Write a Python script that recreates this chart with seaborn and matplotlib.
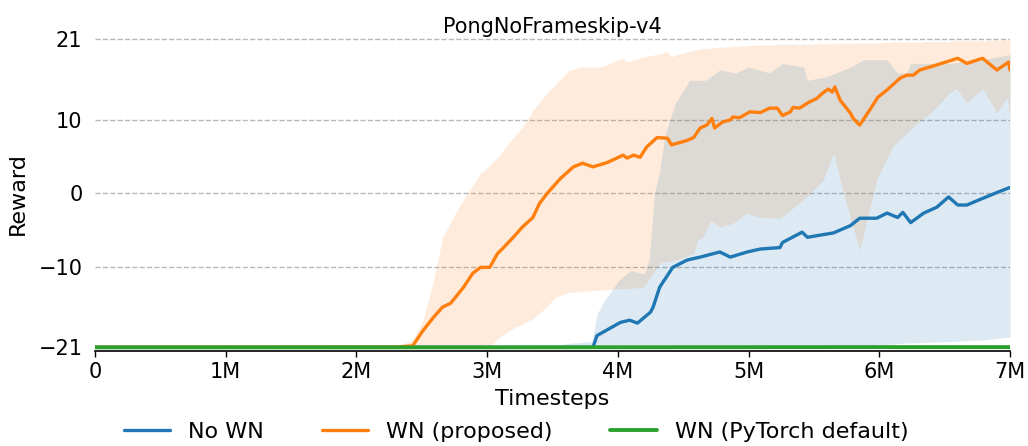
import numpy as np
import pandas as pd
import seaborn as sns
import matplotlib.pyplot as plt
from matplotlib.ticker import FuncFormatter

# ------------------------------ DONNEES (timesteps en millions) ------------------------------
titre = "PongNoFrameskip-v4"
noms = ["No WN", "WN (proposed)", "WN (PyTorch default)"]
couleurs = ["#1f77b4", "#ff7f0e", "#2ca02c"]

# No WN : moyenne
t_nown = [0, 3.81, 3.84, 3.94, 4.02, 4.09, 4.15, 4.25, 4.27, 4.32, 4.42, 4.53, 4.63, 4.78, 4.86,
          4.99, 5.09, 5.24, 5.26, 5.41, 5.45, 5.65, 5.78, 5.85, 5.98, 6.06, 6.14, 6.18, 6.24,
          6.34, 6.44, 6.53, 6.60, 6.67, 6.79, 6.90, 7.0]
moy_nown = [-21, -21, -19.4, -18.4, -17.6, -17.3, -17.7, -16.2, -15.5, -12.8, -10.1, -9.1, -8.7,
            -8.0, -8.7, -8.0, -7.6, -7.4, -6.7, -5.3, -6.0, -5.4, -4.4, -3.4, -3.4, -2.7, -3.3,
            -2.6, -4.0, -2.7, -1.9, -0.5, -1.6, -1.6, -0.7, 0.1, 0.8]
# No WN : enveloppe
tb_nown = [0, 3.5, 3.6, 3.8, 3.84, 3.9, 3.94, 4.0, 4.1, 4.2, 4.24, 4.28, 4.32, 4.36, 4.44, 4.55,
           4.67, 4.78, 4.9, 5.0, 5.16, 5.26, 5.42, 5.45, 5.6, 5.78, 5.88, 6.06, 6.14, 6.21, 6.24,
           6.54, 6.79, 7.0]
bas_nown = [-21, -21, -21, -21, -21, -21, -21, -21, -21, -21, -21, -21, -21, -21, -21, -21,
            -21, -21, -21, -21, -21, -21, -21, -21, -21, -20.9, -20.8, -20.6, -20.5, -20.4,
            -20.4, -20.2, -20.0, -19.6]
haut_nown = [-21, -21, -20.5, -20.2, -16.5, -14.5, -13.6, -12.0, -10.5, -11.0, -9.0, 0.0, 3.0,
             8.0, 12.3, 15.4, 15.4, 16.8, 16.4, 17.2, 16.4, 17.7, 17.2, 15.4, 15.9, 17.2, 18.2,
             18.2, 16.4, 16.4, 17.7, 17.7, 18.2, 18.9]

# WN (proposed) : moyenne
t_wn = [0, 2.3, 2.43, 2.51, 2.59, 2.66, 2.72, 2.82, 2.89, 2.95, 3.02, 3.08, 3.12, 3.20, 3.27,
        3.35, 3.40, 3.46, 3.56, 3.66, 3.73, 3.81, 3.92, 4.04, 4.07, 4.12, 4.17, 4.22, 4.30,
        4.38, 4.41, 4.53, 4.58, 4.63, 4.68, 4.72, 4.74, 4.80, 4.86, 4.88, 4.93, 5.01, 5.09,
        5.16, 5.22, 5.26, 5.32, 5.34, 5.39, 5.46, 5.52, 5.57, 5.61, 5.64, 5.66, 5.70, 5.78,
        5.80, 5.85, 5.91, 5.99, 6.06, 6.16, 6.21, 6.26, 6.31, 6.44, 6.60, 6.67, 6.79, 6.90,
        6.99, 7.0]
moy_wn = [-21, -20.95, -20.8, -18.7, -16.9, -15.5, -15.0, -12.8, -10.9, -10.1, -10.1, -8.2,
          -7.5, -6.0, -4.6, -3.3, -1.4, 0.0, 2.0, 3.6, 4.1, 3.6, 4.2, 5.2, 4.8, 5.2, 4.9, 6.3,
          7.6, 7.5, 6.6, 7.2, 7.6, 8.9, 9.3, 10.2, 8.9, 9.7, 10.0, 10.4, 10.3, 11.1, 11.0,
          11.6, 11.6, 10.6, 11.1, 11.7, 11.6, 12.4, 12.9, 13.7, 14.2, 13.8, 14.5, 12.7, 10.9,
          10.2, 9.3, 10.9, 13.1, 14.1, 15.7, 16.1, 16.1, 16.8, 17.5, 18.4, 17.7, 18.4, 16.8,
          17.9, 16.8]
# WN (proposed) : enveloppe
tb_wn = [0, 2.2, 2.35, 2.43, 2.51, 2.59, 2.66, 2.77, 2.85, 2.95, 3.02, 3.08, 3.2, 3.27, 3.35,
         3.43, 3.53, 3.63, 3.71, 3.86, 4.04, 4.07, 4.2, 4.32, 4.38, 4.41, 4.45, 4.58, 4.61,
         4.65, 4.71, 4.78, 4.88, 4.99, 5.09, 5.24, 5.42, 5.47, 5.57, 5.65, 5.72, 5.85, 5.98,
         6.1, 6.29, 6.39, 6.54, 6.59, 6.67, 6.79, 6.9, 6.98, 7.0]
bas_wn = [-21, -21, -21, -21, -21, -21, -21, -21, -21, -21, -21, -19.8, -18.4, -17.8, -17.1,
          -15.9, -14.1, -13.5, -13.4, -13.2, -13.0, -13.0, -12.8, -9.5, -9.3, -9.2, -9.1, -8.2,
          -6.4, -6.0, -3.7, -4.6, -4.1, -2.7, -3.3, -3.4, -0.9, 0.0, 1.8, 5.5, 0.4, -7.8, 1.8,
          6.3, 9.6, 10.9, 13.7, 14.3, 12.3, 14.3, 10.9, 13.1, 10.0]
haut_wn = [-21, -20.95, -20.6, -20.0, -17.3, -11.9, -6.0, -2.3, 0.0, 2.7, 3.8, 4.9, 7.6, 9.0,
           11.3, 13.1, 15.0, 16.8, 17.2, 17.2, 18.4, 17.9, 18.6, 19.0, 19.3, 18.6, 18.9, 19.5,
           19.6, 19.7, 19.8, 19.9, 20.0, 20.1, 20.2, 20.3, 20.3, 20.3, 20.4, 20.4, 20.4, 20.5,
           20.5, 20.6, 20.6, 20.7, 20.7, 20.8, 20.8, 20.8, 20.9, 20.9, 20.9]

# WN (PyTorch default)
t_pt = [0, 3.0, 6.0, 7.0]
moy_pt = [-21, -21, -20.97, -20.97]
bas_pt = [-21, -21, -21, -21]
haut_pt = [-20.9, -20.9, -20.85, -20.85]

yticks = [-21, -10, 0, 10, 21]
xticks = [0, 1, 2, 3, 4, 5, 6, 7]

# ------------------------------ AFFICHAGE ------------------------------
sns.set_style("white")
plt.rcParams['font.family'] = ['DejaVu Sans']
plt.rcParams['text.color'] = 'black'
plt.rcParams['axes.labelcolor'] = 'black'
plt.rcParams['xtick.color'] = 'black'
plt.rcParams['ytick.color'] = 'black'

fig = plt.figure(figsize=(10.28, 4.46), dpi=100)
ax = fig.add_axes([0.0924, 0.213, 0.8901, 0.704])

# enveloppes
ax.fill_between(tb_wn, bas_wn, haut_wn, color=couleurs[1], alpha=0.15, linewidth=0)
ax.fill_between(tb_nown, bas_nown, haut_nown, color=couleurs[0], alpha=0.15, linewidth=0)
ax.fill_between(t_pt, bas_pt, haut_pt, color=couleurs[2], alpha=0.15, linewidth=0)

df_nown = pd.DataFrame({"t": t_nown, "r": moy_nown})
df_wn = pd.DataFrame({"t": t_wn, "r": moy_wn})
df_pt = pd.DataFrame({"t": t_pt, "r": moy_pt})

sns.lineplot(data=df_nown, x="t", y="r", ax=ax, color=couleurs[0], linewidth=2.4)
sns.lineplot(data=df_wn, x="t", y="r", ax=ax, color=couleurs[1], linewidth=2.4)
sns.lineplot(data=df_pt, x="t", y="r", ax=ax, color=couleurs[2], linewidth=2.8)

ax.set_xlim(0, 7)
ax.set_ylim(-21.5, 21.3)
ax.set_xticks(xticks)
ax.set_yticks(yticks)

def traduiret(x, pos):
    return "0" if x == 0 else str(int(round(x))) + "M"

ax.xaxis.set_major_formatter(FuncFormatter(traduiret))
ax.tick_params(axis="x", length=4, width=1, labelsize=15, pad=4, bottom=True)
ax.tick_params(axis="y", length=0, labelsize=15, pad=9)

ax.grid(axis="y", linestyle="--", color="#b8b8b8", linewidth=1)
ax.grid(axis="x", visible=False)
for s in ["top", "right", "left"]:
    ax.spines[s].set_visible(False)
ax.spines["bottom"].set_color("black")
ax.spines["bottom"].set_linewidth(1.2)

ax.set_title(titre, fontsize=15, pad=3)
ax.set_xlabel("Timesteps", fontsize=16, labelpad=5)
ax.set_ylabel("Reward", fontsize=16, labelpad=8)

lignes = ax.get_lines()[:3]
fig.legend(lignes, noms, loc="center", bbox_to_anchor=(0.502, 14 / 446), ncol=3, frameon=False,
           fontsize=16, borderaxespad=0, handlelength=2.1, columnspacing=2.6)

fig.savefig("out.png", dpi=100)
